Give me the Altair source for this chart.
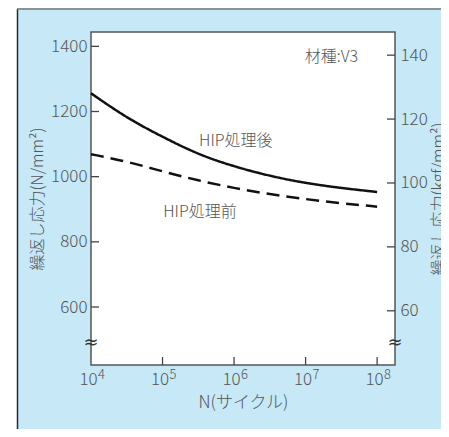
import altair as alt
import pandas as pd

# ---- data ----
cycles = [1e4, 3.1623e4, 1e5, 3.1623e5, 1e6, 3.1623e6, 1e7, 3.1623e7, 1e8]
after_hip = [1256, 1180, 1122, 1068, 1031, 1002, 980, 965, 953]
before_hip = [1069, 1047, 1016, 988, 965, 946, 931, 918, 908]
series_names = ["HIP処理後", "HIP処理前"]

x_ticks = [1e4, 1e5, 1e6, 1e7, 1e8]
x_exponents = ["4", "5", "6", "7", "8"]
y_ticks_n = [600, 800, 1000, 1200, 1400]
y_ticks_kgf = [60, 80, 100, 120, 140]
x_domain = [1e4, 10 ** 8.25]
y_domain_n = [422, 1444]
KGF = 9.80665
y_domain_kgf = [v / KGF for v in y_domain_n]

ann_text = ["HIP処理後", "HIP処理前", "材種:V3"]
ann_x = [1.06e6, 3.34e5, 2.3e7]
ann_y = [1110, 893, 1366]
break_x = [1e4, 10 ** 8.25]
break_y = [490, 490]

W, H = 304, 333
FONT = "Noto Sans CJK JP"
TXT = "#555555"
BG = "#c6e8f7"

df = pd.DataFrame({
    "N": cycles * 2,
    "S": after_hip + before_hip,
    "series": [series_names[0]] * len(cycles) + [series_names[1]] * len(cycles),
})

xs = alt.Scale(type="log", domain=x_domain, nice=False)
ys = alt.Scale(domain=y_domain_n, nice=False, zero=False)
ks = alt.Scale(domain=y_domain_kgf, nice=False, zero=False)

one = pd.DataFrame({"a": [0]})

# decorative frame
white_strip = alt.Chart(one).mark_rect(color="white").encode(
    x=alt.value(-83), x2=alt.value(-74), y=alt.value(-24), y2=alt.value(H + 80))
left_line = alt.Chart(one).mark_rule(color="#2a2a2a", strokeWidth=1.5).encode(
    x=alt.value(-73.5), y=alt.value(-23), y2=alt.value(H + 80))
top_line = alt.Chart(one).mark_rule(color="#777777", strokeWidth=1.5).encode(
    x=alt.value(-74), x2=alt.value(W + 80), y=alt.value(-23))

lines = alt.Chart(df).mark_line(color="#111111", strokeWidth=2.5, interpolate="basis").encode(
    x=alt.X("N:Q", scale=xs, axis=alt.Axis(
        values=x_ticks, labelExpr="'10'",
        ticks=False, domain=False, grid=False, labelFont=FONT, labelFontSize=17,
        labelFontWeight=300, labelColor=TXT, labelPadding=6, labelFlush=False, labelOffset=-3,
        title="N(サイクル)", titleFont=FONT, titleFontSize=17, titleFontWeight=300,
        titleColor=TXT, titlePadding=7)),
    y=alt.Y("S:Q", scale=ys, axis=alt.Axis(
        values=y_ticks_n, format="d", ticks=False, domain=False, grid=False, labelFont=FONT,
        labelFontSize=17, labelFontWeight=300, labelColor=TXT, labelPadding=4,
        title="繰返し応力(N/mm²)", titleFont=FONT, titleFontSize=16, titleFontWeight=300,
        titleColor=TXT, titlePadding=5)),
    strokeDash=alt.StrokeDash("series:N", scale=alt.Scale(domain=series_names, range=[[1, 0], [13, 7]]), legend=None),
)

exps = alt.Chart(pd.DataFrame({"x": x_ticks, "e": x_exponents})).mark_text(
    font=FONT, fontSize=13, fontWeight=300, color=TXT, align="left", baseline="middle", dx=7).encode(
    x=alt.X("x:Q", scale=xs), y=alt.value(H + 10), text="e:N")

ann = alt.Chart(pd.DataFrame({"t": ann_text, "x": ann_x, "y": ann_y})).mark_text(
    font=FONT, fontSize=16, fontWeight=300, color=TXT).encode(
    x=alt.X("x:Q", scale=xs), y=alt.Y("y:Q", scale=ys), text="t:N")

left_ticks = alt.Chart(pd.DataFrame({"v": y_ticks_n})).mark_rule(color="#444444", strokeWidth=1.3).encode(
    y=alt.Y("v:Q", scale=ys), x=alt.value(0), x2=alt.value(8))
bottom_ticks = alt.Chart(pd.DataFrame({"v": x_ticks[1:]})).mark_rule(color="#444444", strokeWidth=1.3).encode(
    x=alt.X("v:Q", scale=xs), y=alt.value(H - 8), y2=alt.value(H))
breaks = alt.Chart(pd.DataFrame({"x": break_x, "y": break_y})).mark_text(
    text="≈", fontSize=18, color="#333333", font="DejaVu Sans").encode(
    x=alt.X("x:Q", scale=xs), y=alt.Y("y:Q", scale=ys))

main = alt.layer(white_strip, left_line, top_line, lines, exps, ann, left_ticks, bottom_ticks, breaks)

right = alt.Chart(pd.DataFrame({"k": y_ticks_kgf})).mark_rule(color="#444444", strokeWidth=1.3).encode(
    y=alt.Y("k:Q", scale=ks, axis=alt.Axis(
        orient="right", values=y_ticks_kgf, ticks=False, domain=False, grid=False,
        labelFont=FONT, labelFontSize=17, labelFontWeight=300, labelColor=TXT, labelPadding=5,
        title="繰返し応力(kgf/mm²)", titleFont=FONT, titleFontSize=16, titleFontWeight=300,
        titleColor=TXT, titlePadding=3, titleAngle=270, titleBaseline="top")),
    x=alt.value(W - 8), x2=alt.value(W))

chart = alt.layer(main, right).resolve_scale(y="independent").properties(
    width=W, height=H,
    autosize=alt.AutoSizeParams(type="none"),
    padding={"left": 83, "top": 24, "right": 46, "bottom": 64},
    background=BG,
).configure_view(fill="white", stroke="#555555", strokeWidth=1.5)

chart.save("out.html", embed_options={"renderer": "svg", "actions": False})
